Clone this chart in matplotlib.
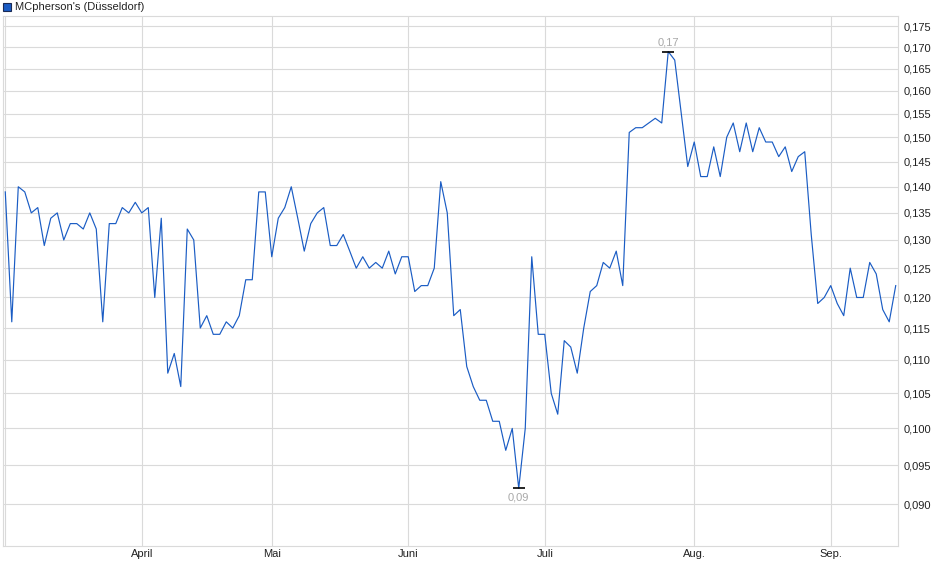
import matplotlib
matplotlib.use("Agg")
import matplotlib.pyplot as plt
from matplotlib.ticker import FixedLocator, NullLocator, FuncFormatter
from matplotlib.patches import Rectangle

plt.rcParams['font.family'] = ['Liberation Sans', 'DejaVu Sans']

title = "MCpherson's (Düsseldorf)"

# closing prices, one per trading day
prices = [
    0.139, 0.116, 0.140, 0.139, 0.135, 0.136, 0.129, 0.134, 0.135, 0.130,
    0.133, 0.133, 0.132, 0.135, 0.132, 0.116, 0.133, 0.133, 0.136, 0.135,
    0.137, 0.135, 0.136, 0.120, 0.134, 0.108, 0.111, 0.106, 0.132, 0.130,
    0.115, 0.117, 0.114, 0.114, 0.116, 0.115, 0.117, 0.123, 0.123, 0.139,
    0.139, 0.127, 0.134, 0.136, 0.140, 0.134, 0.128, 0.133, 0.135, 0.136,
    0.129, 0.129, 0.131, 0.128, 0.125, 0.127, 0.125, 0.126, 0.125, 0.128,
    0.124, 0.127, 0.127, 0.121, 0.122, 0.122, 0.125, 0.141, 0.135, 0.117,
    0.118, 0.109, 0.106, 0.104, 0.104, 0.101, 0.101, 0.097, 0.100, 0.092,
    0.100, 0.127, 0.114, 0.114, 0.105, 0.102, 0.113, 0.112, 0.108, 0.115,
    0.121, 0.122, 0.126, 0.125, 0.128, 0.122, 0.151, 0.152, 0.152, 0.153,
    0.154, 0.153, 0.169, 0.167, 0.155, 0.144, 0.149, 0.142, 0.142, 0.148,
    0.142, 0.150, 0.153, 0.147, 0.153, 0.147, 0.152, 0.149, 0.149, 0.146,
    0.148, 0.143, 0.146, 0.147, 0.131, 0.119, 0.120, 0.122, 0.119, 0.117,
    0.125, 0.120, 0.120, 0.126, 0.124, 0.118, 0.116, 0.122,
]
days = list(range(len(prices)))

# first trading day of each month (index into prices)
month_idx = [21, 41, 62, 83, 106, 127]
month_labels = ["April", "Mai", "Juni", "Juli", "Aug.", "Sep."]

y_ticks = [0.090 + 0.005 * k for k in range(18)]

grid_col = "#dadada"
line_col = "#1a5cc4"

fig = plt.figure(figsize=(9.4, 5.79), dpi=100)
ax = fig.add_axes([3 / 940, 1 - 546 / 579, 895 / 940, 530.5 / 579])

ax.plot(days, prices, color=line_col, linewidth=0.85, zorder=3)

ax.set_yscale("log")
ax.set_ylim(0.0849, 0.1777)
ax.set_xlim(-0.35, 137.35)

ax.yaxis.set_major_locator(FixedLocator(y_ticks))
ax.yaxis.set_minor_locator(NullLocator())
ax.yaxis.set_major_formatter(FuncFormatter(lambda v, p: f"{v:.3f}".replace(".", ",")))
ax.yaxis.tick_right()
ax.tick_params(axis="y", length=0, pad=4, labelsize=8, labelcolor="#222222")

ax.set_xticks(month_idx)
ax.set_xticklabels(month_labels)
ax.tick_params(axis="x", length=0, pad=2.5, labelsize=8, labelcolor="#222222")

ax.grid(True, color=grid_col, linewidth=0.8, zorder=0)
ax.axvline(0, color=grid_col, linewidth=0.8, zorder=0)
for s in ax.spines.values():
    s.set_color(grid_col)
    s.set_linewidth(0.8)

# min / max markers
i_max = prices.index(max(prices))
i_min = prices.index(min(prices))
ax.plot([i_max], [prices[i_max]], marker="_", markersize=9, color="black",
        markeredgewidth=1.2, zorder=4)
ax.plot([i_min], [prices[i_min]], marker="_", markersize=9, color="black",
        markeredgewidth=1.2, zorder=4)
ax.annotate(f"{prices[i_max]:.2f}".replace(".", ","), (i_max, prices[i_max]),
            xytext=(0, 3), textcoords="offset points", ha="center", va="bottom",
            fontsize=8, color="#a8a8a8")
ax.annotate(f"{prices[i_min]:.2f}".replace(".", ","), (i_min, prices[i_min]),
            xytext=(0, -3), textcoords="offset points", ha="center", va="top",
            fontsize=8, color="#a8a8a8")

# legend entry at top-left
fig.patches.append(Rectangle((3 / 940, 1 - 11 / 579), 8 / 940, 8 / 579,
                             transform=fig.transFigure, facecolor=line_col,
                             edgecolor="#1a2a55", linewidth=0.8))
fig.text(15 / 940, 1 - 7 / 579, title, fontsize=8, color="#222222",
         ha="left", va="center")

fig.savefig("out.png", dpi=100)
